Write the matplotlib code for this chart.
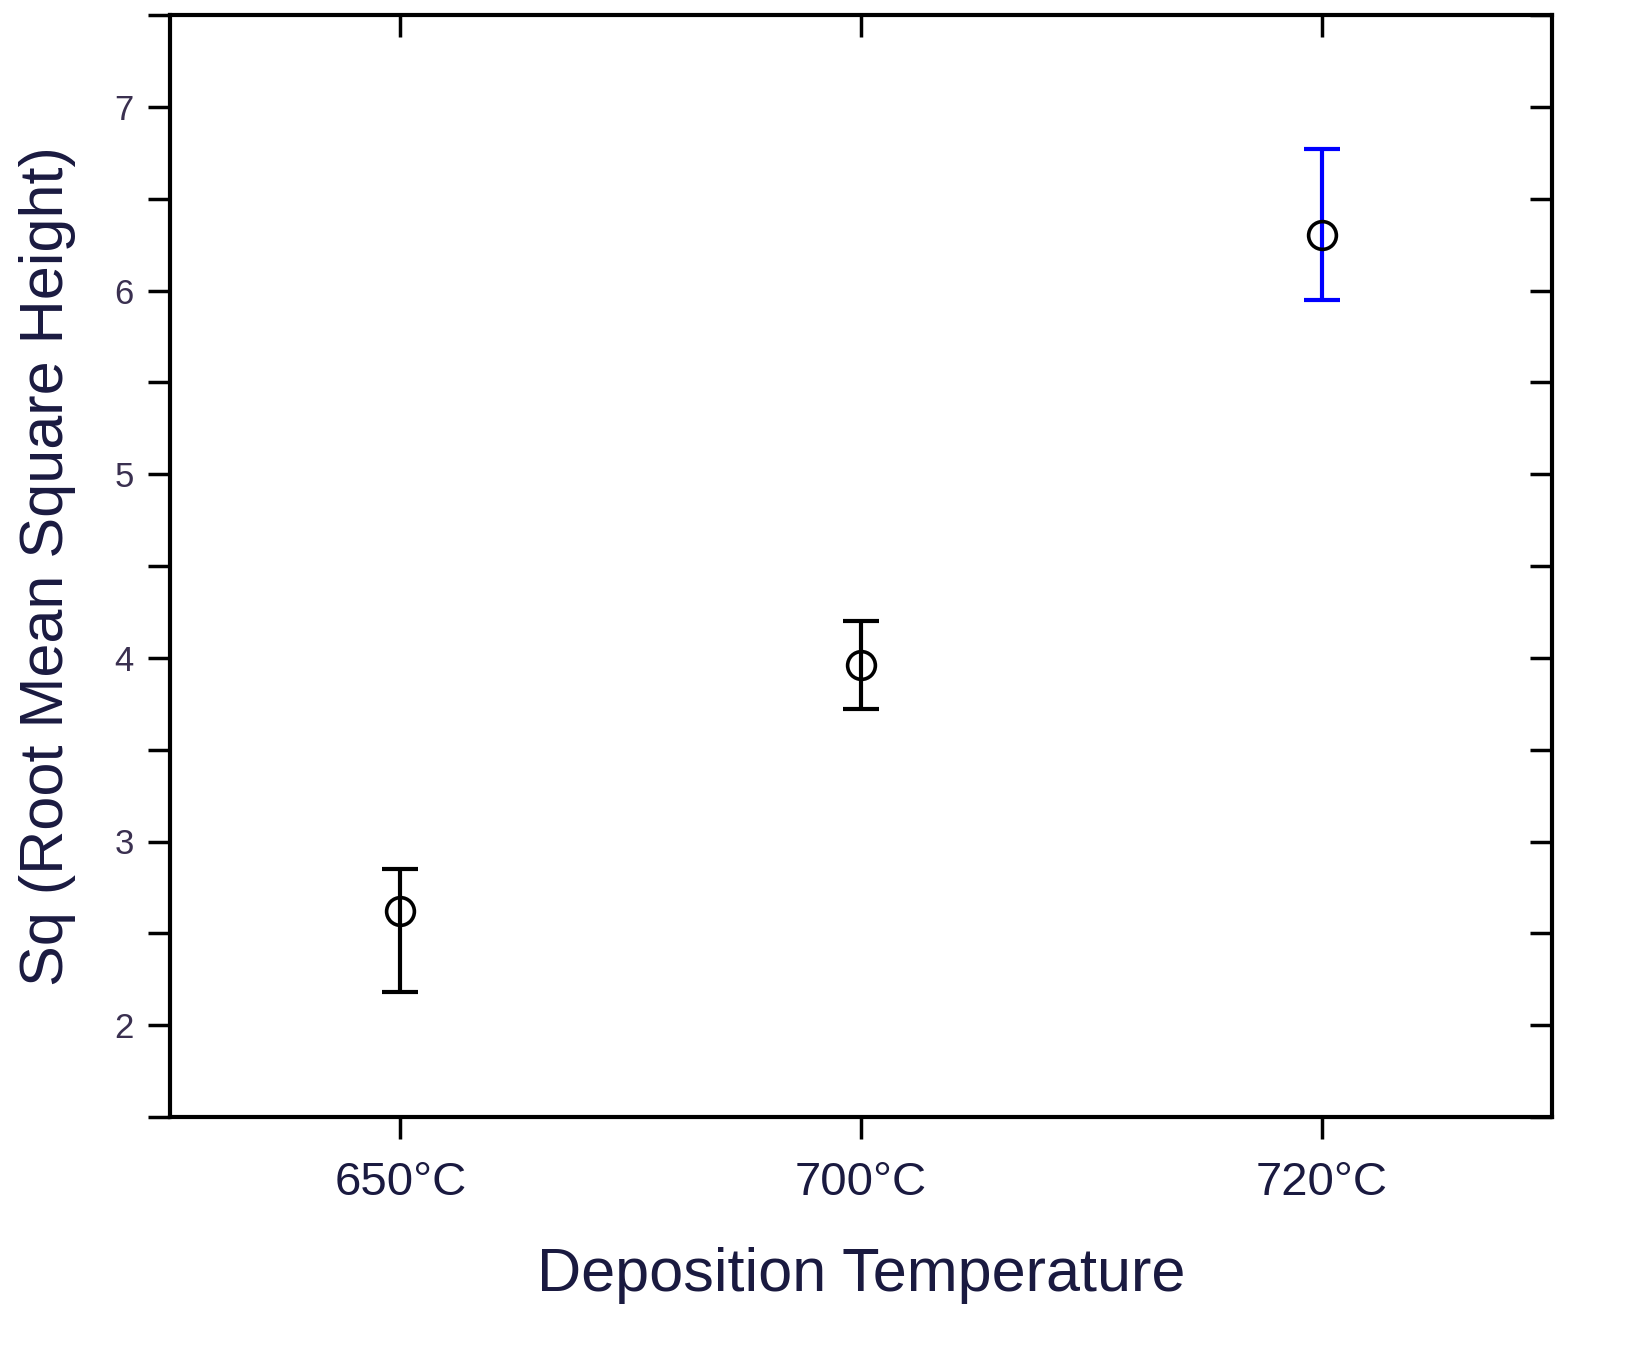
import matplotlib
matplotlib.use("Agg")
import matplotlib.pyplot as plt
from matplotlib.ticker import MultipleLocator

plt.rcParams['font.family'] = ['Liberation Sans', 'DejaVu Sans']

categories = ["650°C", "700°C", "720°C"]
values = [2.62, 3.96, 6.30]
lower = [2.18, 3.72, 5.95]
upper = [2.85, 4.20, 6.77]
colors = ["black", "black", "blue"]

fig = plt.figure(figsize=(16.31, 13.56), dpi=100)
ax = fig.add_axes([170/1631, 1-1117/1356, (1552-170)/1631, (1117-15)/1356])
for i, (v, lo, hi, c) in enumerate(zip(values, lower, upper, colors)):
    ax.errorbar([i], [v], yerr=[[v-lo], [hi-v]], fmt='none', ecolor=c,
                elinewidth=3, capsize=13, capthick=3, zorder=2)
    ax.plot([i], [v], 'o', ms=20, mfc='none', mec='black', mew=2.6, zorder=3)

ax.set_xlim(-0.5, 2.5)
ax.set_ylim(1.5, 7.5)
ax.set_xticks(range(len(categories)))
ax.set_xticklabels(categories, fontsize=34, color='#1a1a40')
ax.yaxis.set_major_locator(MultipleLocator(1))
ax.yaxis.set_minor_locator(MultipleLocator(0.5))
for s in ax.spines.values():
    s.set_linewidth(3)
ax.tick_params(axis='y', which='both', direction='out', right=True, length=16, width=2.5, labelsize=25, labelcolor='#3a3050', pad=10)
ax.tick_params(axis='x', which='both', direction='out', top=True, length=16, width=2.5, pad=16)
for t in ax.yaxis.get_major_ticks() + ax.yaxis.get_minor_ticks():
    t.tick2line.set_marker(matplotlib.lines.TICKLEFT)
for t in ax.xaxis.get_major_ticks():
    t.tick2line.set_marker(matplotlib.lines.TICKDOWN)
ax.set_xlabel("Deposition Temperature", fontsize=44, color='#1a1a40', labelpad=30)
ax.set_ylabel("Sq (Root Mean Square Height)", fontsize=44, color='#1a1a40', labelpad=28)
fig.savefig("out.png", dpi=100)
